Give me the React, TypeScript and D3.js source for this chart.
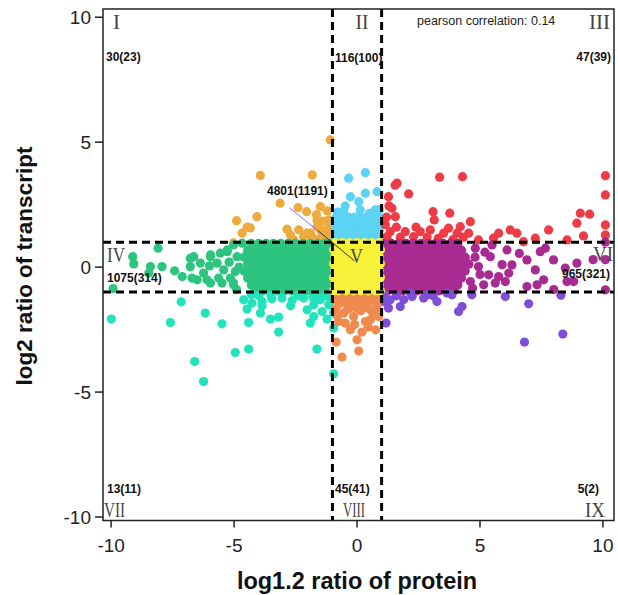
import React from 'react';
import * as d3 from 'd3';

type Pt = [number, number];
type Row = [number, number[]];

// nine regions split by |log1.2 protein| = 1 and |log2 transcript| = 1
const regionNames = ['I', 'II', 'III', 'IV', 'V', 'VI', 'VII', 'VIII', 'IX'];
const regionCounts = ['30(23)', '116(100)', '47(39)', '1075(314)', '4801(1191)', '965(321)', '13(11)', '45(41)', '5(2)'];
const regionColors = ['#EEAA3C', '#5DD3F3', '#EE3B45', '#2CC47F', '#F8F23A', '#A82B92', '#22E3BC', '#F08A4E', '#7D4FD8'];

const xTicks = [-10, -5, 0, 5, 10];
const yTicks = [-10, -5, 0, 5, 10];
const cutoffs = [-1, 1];
const pearson = 0.14;

// region I (orange)
const ptsI: Pt[] = [
  [-1.09, 5.09], [-3.93, 3.67], [-1.82, 3.69], [-3.13, 2.56], [-2.4, 2.38], [-2.05, 2.22], [-1.49, 2.42],
  [-1.2, 2.25], [-4.07, 2.02], [-4.9, 1.86], [-4.47, 1.6], [-4.67, 1.36], [-4.34, 1.57], [-2.85, 1.52],
  [-2.71, 1.29], [-2.37, 1.49], [-1.63, 1.89], [-1.4, 1.84], [-1.15, 1.89], [-1.17, 1.57], [-1.49, 1.49],
  [-1.29, 1.45], [-1.9, 1.36], [-2.18, 1.2], [-2.03, 1.36], [-1.63, 1.62], [-1.83, 1.22], [-2.58, 1.09],
  [-5.03, 0.97], [-1.5, 1.15], [-1.2, 1.25], [-1.65, 2.1],
];
const rowsI: Row[] = [];

// region II (light blue)
const ptsII: Pt[] = [
  [0.34, 3.78], [-0.34, 3.56], [0.81, 3.02], [0.34, 2.96], [-0.27, 2.82], [0.07, 2.62], [-0.48, 2.45],
  [0.74, 2.29], [0.13, 2.29], [-0.8, 2.2], [0.5, 2.15], [-0.55, 2.25], [0.9, 2.3],
];
const rowsII: Row[] = [
  [2.0, [-0.85, -0.6, -0.35, -0.1, 0.15, 0.4, 0.65, 0.9]],
  [1.75, [-0.9, -0.65, -0.4, -0.15, 0.1, 0.35, 0.6, 0.85]],
  [1.48, [-0.85, -0.6, -0.35, -0.1, 0.15, 0.4, 0.65, 0.9]],
  [1.2, [-0.9, -0.65, -0.4, -0.15, 0.1, 0.35, 0.6, 0.85]],
];

// region III (red)
const ptsIII: Pt[] = [
  [3.36, 3.6], [4.29, 3.62], [10.1, 3.66], [10.1, 2.89], [1.63, 3.36], [1.55, 3.28], [2.1, 2.93], [1.28, 2.82],
  [1.42, 2.36], [1.3, 2.45], [1.56, 2.02], [3.09, 2.22], [3.77, 2.16], [3.14, 1.89], [4.61, 1.82], [4.2, 1.62],
  [3.72, 1.56], [9.08, 2.16], [9.46, 2.12], [8.94, 1.76], [10.1, 1.69], [10.1, 1.29], [9.21, 1.25], [7.79, 1.49],
  [6.23, 1.49], [6.5, 1.36], [5.76, 1.36], [5.55, 1.16], [7.25, 1.16], [1.35, 1.42], [1.96, 1.42], [2.57, 1.42],
  [2.98, 1.49], [4.54, 1.36], [4.07, 1.36], [3.52, 1.36], [2.3, 1.22], [1.76, 1.2], [1.22, 1.22], [2.85, 1.2],
  [4.33, 1.2], [4.94, 1.09], [6.77, 1.02], [8.54, 1.09], [1.15, 1.7], [1.2, 2.0], [1.6, 1.6], [2.4, 1.6],
  [3.3, 1.15], [3.9, 1.1],
];
const rowsIII: Row[] = [];

// region IV (green)
const ptsIV: Pt[] = [
  [-8.09, 0.76], [-9.12, 0.42], [-9.08, 0.13], [-8.4, 0.02], [-7.93, 0.02], [-8.47, -0.24], [-9.92, -0.86],
  [-7.42, -0.15], [-7.11, -0.38], [-6.64, 0.42], [-6.78, 0.02], [-6.78, 0.36], [-6.37, 0.16], [-6.24, -0.24],
  [-6.5, -0.51], [-6.71, -0.44], [-5.96, -0.64], [-6.1, -0.51], [-5.96, 0.42], [-5.96, 0.49], [-5.56, 0.56],
  [-5.28, 0.62], [-5.28, 0.69], [-5.69, 0.16], [-5.42, -0.11], [-5.63, -0.44], [-5.49, -0.64], [-5.02, -0.64],
  [-5.02, -0.71], [-5.15, -0.44], [-4.88, 0.42], [-5.02, 0.89], [-4.95, -0.18], [-4.67, 0.96], [-5.2, 0.2],
  [-6.0, 0.05], [-4.8, 0.0], [-4.9, -0.9],
];
const rowsIV: Row[] = [
  [0.95, [-4.3, -4.0, -3.7, -3.4, -3.1, -2.8, -2.5, -2.2, -1.9, -1.6, -1.3, -1.08]],
  [0.68, [-4.45, -4.15, -3.85, -3.55, -3.25, -2.95, -2.65, -2.35, -2.05, -1.75, -1.45, -1.15]],
  [0.4, [-4.6, -4.3, -4.0, -3.7, -3.4, -3.1, -2.8, -2.5, -2.2, -1.9, -1.6, -1.3, -1.08]],
  [0.12, [-4.45, -4.15, -3.85, -3.55, -3.25, -2.95, -2.65, -2.35, -2.05, -1.75, -1.45, -1.15]],
  [-0.16, [-4.6, -4.3, -4.0, -3.7, -3.4, -3.1, -2.8, -2.5, -2.2, -1.9, -1.6, -1.3, -1.08]],
  [-0.44, [-4.45, -4.15, -3.85, -3.55, -3.25, -2.95, -2.65, -2.35, -2.05, -1.75, -1.45, -1.15]],
  [-0.72, [-4.3, -4.0, -3.7, -3.4, -3.1, -2.8, -2.5, -2.2, -1.9, -1.6, -1.3, -1.08]],
  [-0.95, [-4.15, -3.85, -3.55, -3.25, -2.95, -2.65, -2.35, -2.05, -1.75, -1.45, -1.15]],
];

// region V (yellow)
const ptsV: Pt[] = [];
const rowsV: Row[] = [
  [0.98, [-0.9, -0.6, -0.3, 0, 0.3, 0.6, 0.9]],
  [0.7, [-0.95, -0.75, -0.45, -0.15, 0.15, 0.45, 0.75, 0.95]],
  [0.42, [-0.9, -0.6, -0.3, 0, 0.3, 0.6, 0.9]],
  [0.14, [-0.95, -0.75, -0.45, -0.15, 0.15, 0.45, 0.75, 0.95]],
  [-0.14, [-0.9, -0.6, -0.3, 0, 0.3, 0.6, 0.9]],
  [-0.42, [-0.95, -0.75, -0.45, -0.15, 0.15, 0.45, 0.75, 0.95]],
  [-0.7, [-0.9, -0.6, -0.3, 0, 0.3, 0.6, 0.9]],
  [-0.95, [-0.95, -0.75, -0.45, -0.15, 0.15, 0.45, 0.75, 0.95]],
];

// region VI (purple)
const ptsVI: Pt[] = [
  [4.81, 0.76], [5.49, 0.89], [6.1, 0.69], [5.42, 0.42], [6.3, 0.09], [6.91, 0.29], [7.45, 0.62], [7.66, 0.76],
  [7.99, 0.29], [7.25, -0.11], [7.59, -0.51], [6.91, -0.78], [7.32, -0.71], [8.54, -0.58], [8.94, 0.16],
  [8.47, -0.04], [8.81, -0.58], [10.1, -0.91], [10.1, 1.0], [6.17, -0.24], [5.76, -0.38], [5.62, -0.64],
  [6.03, -0.58], [5.35, -0.31], [5.15, -0.71], [4.61, -0.58], [4.94, 0.02], [4.47, 0.16], [4.8, 0.4],
  [5.0, -0.3], [5.2, 0.6], [4.7, -0.85], [5.9, 0.1], [9.6, 0.3], [10.1, 0.3], [6.6, 0.55], [8.0, -0.9],
];
const rowsVI: Row[] = [
  [0.95, [1.1, 1.4, 1.7, 2.0, 2.3, 2.6, 2.9, 3.2, 3.5, 3.8, 4.1]],
  [0.68, [1.25, 1.55, 1.85, 2.15, 2.45, 2.75, 3.05, 3.35, 3.65, 3.95, 4.25]],
  [0.4, [1.1, 1.4, 1.7, 2.0, 2.3, 2.6, 2.9, 3.2, 3.5, 3.8, 4.1, 4.4]],
  [0.12, [1.25, 1.55, 1.85, 2.15, 2.45, 2.75, 3.05, 3.35, 3.65, 3.95, 4.25, 4.55]],
  [-0.16, [1.1, 1.4, 1.7, 2.0, 2.3, 2.6, 2.9, 3.2, 3.5, 3.8, 4.1, 4.4]],
  [-0.44, [1.25, 1.55, 1.85, 2.15, 2.45, 2.75, 3.05, 3.35, 3.65, 3.95, 4.25]],
  [-0.72, [1.1, 1.4, 1.7, 2.0, 2.3, 2.6, 2.9, 3.2, 3.5, 3.8, 4.1]],
  [-0.95, [1.25, 1.55, 1.85, 2.15, 2.45, 2.75, 3.05, 3.35, 3.65, 3.95]],
];

// region VII (teal)
const ptsVII: Pt[] = [
  [-9.99, -2.08], [-7.15, -1.39], [-7.59, -2.22], [-6.17, -1.84], [-5.49, -2.27], [-6.6, -3.78], [-6.24, -4.58],
  [-4.95, -3.42], [-4.41, -3.28], [-1.63, -3.28], [-0.95, -4.27], [-0.95, -2.44], [-3.19, -2.6], [-3.52, -2.08],
  [-3.19, -2.0], [-3.93, -1.84], [-4.41, -2.22], [-4.47, -1.68], [-4.61, -1.31], [-4.27, -1.44], [-3.86, -1.38],
  [-3.86, -1.55], [-3.46, -1.27], [-3.05, -1.24], [-2.64, -1.34], [-2.7, -1.55], [-2.17, -1.24], [-2.03, -1.71],
  [-1.76, -1.51], [-1.9, -2.24], [-1.76, -1.98], [-1.42, -1.78], [-1.22, -2.08], [-1.49, -1.31], [-1.15, -1.51],
  [-1.09, -1.24], [-0.95, -1.84], [-1.3, -1.15], [-1.8, -1.2], [-2.4, -1.15], [-1.6, -1.25], [-3.5, -1.15],
  [-4.0, -1.15], [-4.3, -1.1],
];
const rowsVII: Row[] = [];

// region VIII (salmon)
const ptsVIII: Pt[] = [
  [-0.61, -3.6], [0.07, -3.36], [0, -2.91], [0.2, -2.6], [0.76, -2.51], [-0.27, -2.51], [-0.85, -3.0],
  [-0.75, -2.18], [-0.48, -2.24], [0.34, -2.18], [0.61, -1.78], [-0.14, -1.98], [-0.54, -1.84], [0.88, -1.98],
  [-0.68, -1.44], [0.27, -1.51], [0.88, -1.44], [-0.4, -1.7], [0.15, -1.75], [0.55, -2.1], [-0.8, -1.95],
  [-0.1, -2.3], [0.45, -2.4],
];
const rowsVIII: Row[] = [
  [-1.12, [-0.9, -0.6, -0.3, 0, 0.3, 0.6, 0.9]],
  [-1.38, [-0.8, -0.5, -0.2, 0.1, 0.4, 0.7, 0.92]],
  [-1.65, [-0.85, -0.3, 0.0, 0.45, 0.8]],
];

// region IX (violet)
const ptsIX: Pt[] = [
  [4.13, -1.78], [4.27, -1.58], [6.03, -1.18], [3.25, -1.38], [2.71, -1.24], [2.24, -1.18], [1.76, -1.58],
  [1.28, -1.64], [1.18, -2.24], [4.67, -1.11], [3.86, -1.11], [6.81, -3.0], [8.37, -2.68], [6.98, -1.47],
  [8.29, -1.13], [1.35, -1.31], [2.17, -1.04], [3.66, -1.04], [1.1, -1.1], [1.6, -1.15], [2.9, -1.1],
  [1.15, -1.4], [3.1, -1.15], [1.9, -1.3],
];
const rowsIX: Row[] = [];

const regionPts: Pt[][] = [ptsI, ptsII, ptsIII, ptsIV, ptsV, ptsVI, ptsVII, ptsVIII, ptsIX];
const regionRows: Row[][] = [rowsI, rowsII, rowsIII, rowsIV, rowsV, rowsVI, rowsVII, rowsVIII, rowsIX];

const W = 618;
const H = 595;
const plot = { left: 103, right: 614, top: 9, bottom: 520.5 };

export default function App() {
  const x = d3.scaleLinear().domain([-10.33, 10.45]).range([plot.left, plot.right]);
  const y = d3.scaleLinear().domain([-10.14, 10.33]).range([plot.bottom, plot.top]);

  const sans = 'Liberation Sans, Arial, sans-serif';
  const serif = 'Liberation Serif, Times New Roman, serif';

  // draw the yellow centre last, as in the original
  const order = [0, 1, 2, 3, 5, 6, 7, 8, 4];
  const points = order.flatMap((i) => {
    const pts = regionPts[i].concat(regionRows[i].flatMap(([yy, xs]) => xs.map((xx) => [xx, yy] as Pt)));
    return pts.map((p) => ({ p, c: regionColors[i] }));
  });

  // label layout: [x, y, anchor, textLength]
  const nameLayout: [number, number, string, number][] = [
    [116.5, 29, 'middle', 7], [362, 29, 'middle', 13], [610, 29, 'end', 21],
    [107, 262, 'start', 18], [356.5, 263, 'middle', 13], [593, 261, 'start', 20],
    [104, 517, 'start', 21], [343, 517, 'start', 22], [605, 517, 'end', 20],
  ];
  const countLayout: [number, number, string][] = [
    [106, 61, 'start'], [335, 62, 'start'], [611, 61, 'end'],
    [107, 282, 'start'], [267, 195, 'start'], [610, 278, 'end'],
    [107, 493, 'start'], [335, 493, 'start'], [599, 493, 'end'],
  ];

  return (
    <svg width={W} height={H} style={{ position: 'absolute', left: 0, top: 0, background: '#fff' }}>
      <defs>
        <clipPath id="plotClip">
          <rect x={plot.left} y={plot.top} width={plot.right - plot.left} height={plot.bottom - plot.top} />
        </clipPath>
      </defs>

      <g clipPath="url(#plotClip)">
        {points.map((d, i) => (
          <circle key={i} cx={x(d.p[0])} cy={y(d.p[1])} r={4.6} fill={d.c} />
        ))}

        {cutoffs.map((c) => (
          <line key={'v' + c} x1={x(c)} x2={x(c)} y1={plot.top} y2={plot.bottom}
            stroke="#000" strokeWidth={3} strokeDasharray="8,5" />
        ))}
        {cutoffs.map((c) => (
          <line key={'h' + c} x1={plot.left} x2={plot.right} y1={y(c)} y2={y(c)}
            stroke="#000" strokeWidth={3} strokeDasharray="8,5" />
        ))}
      </g>

      <rect x={plot.left} y={plot.top} width={plot.right - plot.left} height={plot.bottom - plot.top}
        fill="none" stroke="#222" strokeWidth={1.5} />

      {/* x axis */}
      {xTicks.map((t) => (
        <g key={'xt' + t}>
          <line x1={x(t)} x2={x(t)} y1={plot.bottom} y2={plot.bottom + 7} stroke="#222" strokeWidth={1.5} />
          <text x={x(t)} y={552} textAnchor="middle" fontFamily={sans} fontSize={19} fill="#222">{t}</text>
        </g>
      ))}
      {/* y axis */}
      {yTicks.map((t) => (
        <g key={'yt' + t}>
          <line x1={plot.left - 8} x2={plot.left} y1={y(t)} y2={y(t)} stroke="#222" strokeWidth={1.5} />
          <text x={91} y={y(t) + 7} textAnchor="end" fontFamily={sans} fontSize={19} fill="#222">{t}</text>
        </g>
      ))}

      <text x={357} y={589} textAnchor="middle" fontFamily={sans} fontWeight="bold" fontSize={23.5} fill="#111">
        log1.2 ratio of protein
      </text>
      <text transform="translate(32,266) rotate(-90)" textAnchor="middle" fontFamily={sans} fontWeight="bold"
        fontSize={22.5} fill="#111">
        log2 ratio of transcript
      </text>

      {/* annotation for the centre region */}
      <line x1={x(-2.75)} y1={y(2.37)} x2={x(-1.58)} y2={y(1.45)} stroke="#7777ff" strokeWidth={1} />
      <line x1={x(-1.58)} y1={y(1.45)} x2={x(-0.1)} y2={y(0.25)} stroke="#333" strokeWidth={1} />

      {regionNames.map((n, i) => (
        <text key={'n' + n} x={nameLayout[i][0]} y={nameLayout[i][1]} textAnchor={nameLayout[i][2]}
          textLength={nameLayout[i][3]} lengthAdjust="spacingAndGlyphs"
          fontFamily={serif} fontSize={22} fill="#444">{n}</text>
      ))}
      {regionCounts.map((c, i) => (
        <text key={'c' + i} x={countLayout[i][0]} y={countLayout[i][1]} textAnchor={countLayout[i][2]}
          fontFamily={sans} fontWeight="bold" fontSize={12} fill="#111">{c}</text>
      ))}

      <text x={417} y={25} fontFamily={sans} fontSize={12.5} fill="#222">
        pearson correlation: {pearson}
      </text>
    </svg>
  );
}
